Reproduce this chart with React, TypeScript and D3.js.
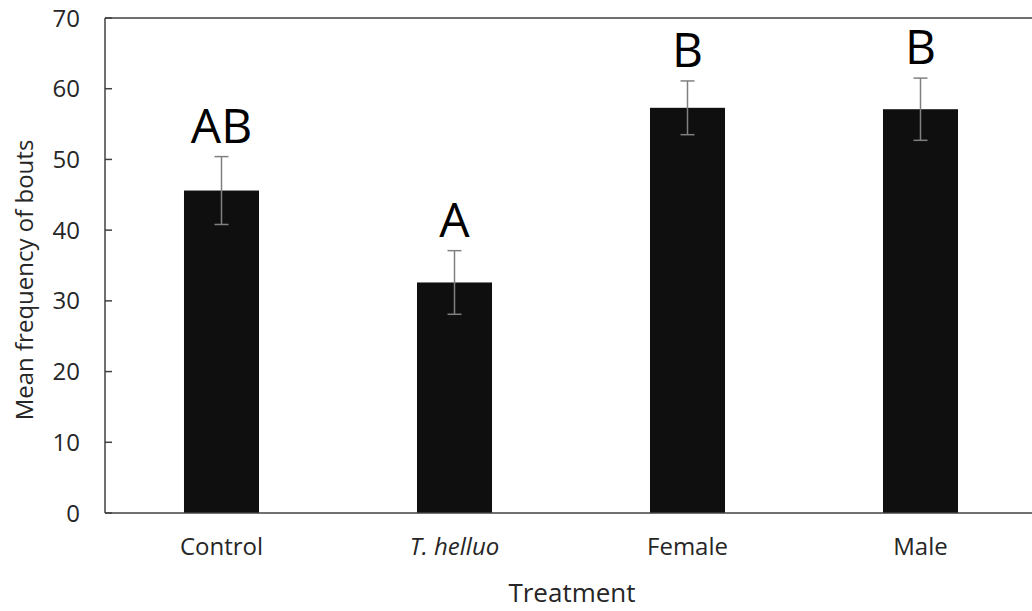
import React from 'react';
import * as d3 from 'd3';

const categories = ['Control', 'T. helluo', 'Female', 'Male'];
const means = [45.6, 32.6, 57.3, 57.1];
const errors = [4.8, 4.5, 3.8, 4.4];
const letters = ['AB', 'A', 'B', 'B'];
const yTicks = [0, 10, 20, 30, 40, 50, 60, 70];

const W = 1032;
const H = 611;
const margin = { top: 18, right: -5, bottom: 98, left: 105 };
const font = '"Open Sans", sans-serif';

const App = () => {
  const x = d3.scaleBand()
    .domain(categories)
    .range([margin.left, W - margin.right])
    .paddingInner(0.678)
    .paddingOuter(0.339);

  const y = d3.scaleLinear()
    .domain([0, 70])
    .range([H - margin.bottom, margin.top]);

  const x0 = margin.left;
  const y0 = y(0);

  return (
    <svg width={W} height={H} style={{ position: 'absolute', left: 0, top: 0, background: '#fff' }}>
      {/* bars */}
      {categories.map((c, i) => (
        <rect key={c} x={x(c)} y={y(means[i])} width={x.bandwidth()}
          height={y0 - y(means[i])} fill="#0f0f0f" />
      ))}

      {/* error bars */}
      {categories.map((c, i) => {
        const cx = (x(c) as number) + x.bandwidth() / 2;
        const top = y(means[i] + errors[i]);
        const bot = y(means[i] - errors[i]);
        return (
          <g key={c} stroke="#808080" strokeWidth={1.5}>
            <line x1={cx} x2={cx} y1={top} y2={bot} />
            <line x1={cx - 7} x2={cx + 7} y1={top} y2={top} />
            <line x1={cx - 7} x2={cx + 7} y1={bot} y2={bot} />
          </g>
        );
      })}

      {/* significance letters */}
      {categories.map((c, i) => (
        <text key={c} x={(x(c) as number) + x.bandwidth() / 2}
          y={y(means[i] + errors[i]) - 14} textAnchor="middle"
          fontFamily={font} fontSize={48} fill="#000">{letters[i]}</text>
      ))}

      {/* axes frame */}
      <g stroke="#404040" strokeWidth={1.5} fill="none">
        <line x1={x0} x2={x0} y1={margin.top} y2={y0} />
        <line x1={x0} x2={W} y1={margin.top} y2={margin.top} />
        <line x1={x0} x2={W} y1={y0} y2={y0} />
        {yTicks.map(t => (
          <line key={t} x1={x0} x2={x0 + 7} y1={y(t)} y2={y(t)} />
        ))}
      </g>

      {/* y tick labels */}
      {yTicks.map(t => (
        <text key={t} x={80} y={y(t)} dy="0.36em" textAnchor="end"
          fontFamily={font} fontSize={24} fill="#262626">{t}</text>
      ))}

      {/* x tick labels */}
      {categories.map(c => (
        <text key={c} x={(x(c) as number) + x.bandwidth() / 2} y={555}
          textAnchor="middle" fontFamily={font} fontSize={24} fill="#262626"
          fontStyle={c === 'T. helluo' ? 'italic' : 'normal'}>{c}</text>
      ))}

      {/* axis titles */}
      <text x={572} y={602} textAnchor="middle" fontFamily={font} fontSize={26} fill="#262626">Treatment</text>
      <text transform="translate(33,280) rotate(-90)" textAnchor="middle"
        fontFamily={font} fontSize={24} fill="#262626">Mean frequency of bouts</text>
    </svg>
  );
};

export default App;
